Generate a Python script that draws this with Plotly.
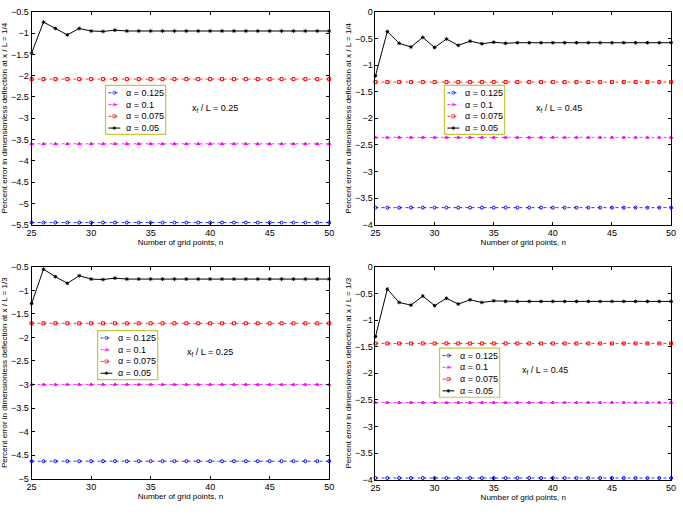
import plotly.graph_objects as go

W, H = 683, 516
n = list(range(25, 51))

# top-left: x/L = 1/4, xf/L = 0.25
tl_a0125 = [-5.45, -5.45, -5.45, -5.45, -5.45, -5.45, -5.45, -5.45, -5.45, -5.45, -5.45, -5.45, -5.45,
            -5.45, -5.45, -5.45, -5.45, -5.45, -5.45, -5.45, -5.45, -5.45, -5.45, -5.45, -5.45, -5.45]
tl_a01 = [-3.6, -3.6, -3.6, -3.6, -3.6, -3.6, -3.6, -3.6, -3.6, -3.6, -3.6, -3.6, -3.6,
          -3.6, -3.6, -3.6, -3.6, -3.6, -3.6, -3.6, -3.6, -3.6, -3.6, -3.6, -3.6, -3.6]
tl_a0075 = [-2.08, -2.08, -2.08, -2.08, -2.08, -2.08, -2.08, -2.08, -2.08, -2.08, -2.08, -2.08, -2.08,
            -2.08, -2.08, -2.08, -2.08, -2.08, -2.08, -2.08, -2.08, -2.08, -2.08, -2.08, -2.08, -2.08]
tl_a005 = [-1.47, -0.74, -0.89, -1.04, -0.89, -0.95, -0.96, -0.93, -0.95, -0.95, -0.95, -0.95, -0.95,
           -0.95, -0.95, -0.95, -0.95, -0.95, -0.95, -0.95, -0.95, -0.95, -0.95, -0.95, -0.95, -0.95]

# top-right: x/L = 1/4, xf/L = 0.45
tr_a0125 = [-3.68, -3.68, -3.68, -3.68, -3.68, -3.68, -3.68, -3.68, -3.68, -3.68, -3.68, -3.68, -3.68,
            -3.68, -3.68, -3.68, -3.68, -3.68, -3.68, -3.68, -3.68, -3.68, -3.68, -3.68, -3.68, -3.68]
tr_a01 = [-2.36, -2.36, -2.36, -2.36, -2.36, -2.36, -2.36, -2.36, -2.36, -2.36, -2.36, -2.36, -2.36,
          -2.36, -2.36, -2.36, -2.36, -2.36, -2.36, -2.36, -2.36, -2.36, -2.36, -2.36, -2.36, -2.36]
tr_a0075 = [-1.32, -1.32, -1.32, -1.32, -1.32, -1.32, -1.32, -1.32, -1.32, -1.32, -1.32, -1.32, -1.32,
            -1.32, -1.32, -1.32, -1.32, -1.32, -1.32, -1.32, -1.32, -1.32, -1.32, -1.32, -1.32, -1.32]
tr_a005 = [-1.2, -0.37, -0.59, -0.66, -0.48, -0.67, -0.51, -0.63, -0.55, -0.60, -0.57, -0.59, -0.58,
           -0.58, -0.58, -0.58, -0.58, -0.58, -0.58, -0.58, -0.58, -0.58, -0.58, -0.58, -0.58, -0.58]

# bottom-left: x/L = 1/3, xf/L = 0.25
bl_a0125 = [-4.63, -4.63, -4.63, -4.63, -4.63, -4.63, -4.63, -4.63, -4.63, -4.63, -4.63, -4.63, -4.63,
            -4.63, -4.63, -4.63, -4.63, -4.63, -4.63, -4.63, -4.63, -4.63, -4.63, -4.63, -4.63, -4.63]
bl_a01 = [-3.0, -3.0, -3.0, -3.0, -3.0, -3.0, -3.0, -3.0, -3.0, -3.0, -3.0, -3.0, -3.0,
          -3.0, -3.0, -3.0, -3.0, -3.0, -3.0, -3.0, -3.0, -3.0, -3.0, -3.0, -3.0, -3.0]
bl_a0075 = [-1.7, -1.7, -1.7, -1.7, -1.7, -1.7, -1.7, -1.7, -1.7, -1.7, -1.7, -1.7, -1.7,
            -1.7, -1.7, -1.7, -1.7, -1.7, -1.7, -1.7, -1.7, -1.7, -1.7, -1.7, -1.7, -1.7]
bl_a005 = [-1.28, -0.55, -0.71, -0.85, -0.69, -0.76, -0.77, -0.74, -0.76, -0.76, -0.76, -0.76, -0.76,
           -0.76, -0.76, -0.76, -0.76, -0.76, -0.76, -0.76, -0.76, -0.76, -0.76, -0.76, -0.76, -0.76]

# bottom-right: x/L = 1/3, xf/L = 0.45
br_a0125 = [-3.97, -3.97, -3.97, -3.97, -3.97, -3.97, -3.97, -3.97, -3.97, -3.97, -3.97, -3.97, -3.97,
            -3.97, -3.97, -3.97, -3.97, -3.97, -3.97, -3.97, -3.97, -3.97, -3.97, -3.97, -3.97, -3.97]
br_a01 = [-2.55, -2.55, -2.55, -2.55, -2.55, -2.55, -2.55, -2.55, -2.55, -2.55, -2.55, -2.55, -2.55,
          -2.55, -2.55, -2.55, -2.55, -2.55, -2.55, -2.55, -2.55, -2.55, -2.55, -2.55, -2.55, -2.55]
br_a0075 = [-1.44, -1.44, -1.44, -1.44, -1.44, -1.44, -1.44, -1.44, -1.44, -1.44, -1.44, -1.44, -1.44,
            -1.44, -1.44, -1.44, -1.44, -1.44, -1.44, -1.44, -1.44, -1.44, -1.44, -1.44, -1.44, -1.44]
br_a005 = [-1.31, -0.42, -0.67, -0.72, -0.55, -0.73, -0.59, -0.70, -0.62, -0.67, -0.64, -0.65, -0.65,
           -0.65, -0.65, -0.65, -0.65, -0.65, -0.65, -0.65, -0.65, -0.65, -0.65, -0.65, -0.65, -0.65]

series_names = ["\u03b1 = 0.125", "\u03b1 = 0.1", "\u03b1 = 0.075", "\u03b1 = 0.05"]
y_titles = ["Percent error in dimensionless deflection at x / L = 1/4",
            "Percent error in dimensionless deflection at x / L = 1/4",
            "Percent error in dimensionless deflection at x / L = 1/3",
            "Percent error in dimensionless deflection at x / L = 1/3"]
x_title = "Number of grid points, n"
xf_labels = ["x<sub>f</sub> / L = 0.25", "x<sub>f</sub> / L = 0.45",
             "x<sub>f</sub> / L = 0.25", "x<sub>f</sub> / L = 0.45"]
y_ranges = [(-5.5, -0.5), (-4, 0), (-5, -0.5), (-4, 0)]

panels = [
    [tl_a0125, tl_a01, tl_a0075, tl_a005],
    [tr_a0125, tr_a01, tr_a0075, tr_a005],
    [bl_a0125, bl_a01, bl_a0075, bl_a005],
    [br_a0125, br_a01, br_a0075, br_a005],
]

styles = [
    dict(color="#0000ff", dash="dot", symbol="circle-open", msize=3),
    dict(color="#ff00ff", dash="dot", symbol="triangle-up", msize=3),
    dict(color="#ff0000", dash="dot", symbol="square-open", msize=3),
    dict(color="#000000", dash="solid", symbol="asterisk-open", msize=3),
]

boxes = [(27, 329, 7, 224), (376, 676, 7, 224), (27, 329, 267, 483), (376, 676, 267, 484)]
leg_pos = [(102, 82), (446, 82), (94, 332), (441, 350)]
leg_w, leg_h = 61, 50
xf_pos = [(213, 106), (562, 106), (208, 354), (548, 373)]

FONT = "Liberation Sans, Arial, sans-serif"
fig = go.Figure()

for i, data in enumerate(panels):
    xa = "x" if i == 0 else f"x{i+1}"
    ya = "y" if i == 0 else f"y{i+1}"
    for j, ys in enumerate(data):
        s = styles[j]
        fig.add_trace(go.Scatter(
            x=n, y=ys, xaxis=xa, yaxis=ya, mode="lines+markers", name=series_names[j],
            showlegend=False, cliponaxis=False,
            line=dict(color=s["color"], width=1 if j == 3 else 0.8, dash=s["dash"]),
            marker=dict(symbol=s["symbol"], size=s["msize"], color=s["color"],
                        line=dict(color=s["color"], width=1)),
        ))
    l, r, t, b = boxes[i]
    axkw = dict(showline=True, linecolor="black", linewidth=1, mirror="ticks", ticks="inside",
                ticklen=3, tickcolor="black", showgrid=False, zeroline=False,
                tickfont=dict(family=FONT, size=9, color="black"))
    xname = "xaxis" if i == 0 else f"xaxis{i+1}"
    yname = "yaxis" if i == 0 else f"yaxis{i+1}"
    fig.layout[xname] = dict(domain=[l / W, r / W], range=[25, 50], dtick=5, anchor=ya,
                             title=dict(text=x_title, font=dict(family=FONT, size=8, color="black"),
                                        standoff=0), **axkw)
    fig.layout[yname] = dict(domain=[1 - b / H, 1 - t / H], range=list(y_ranges[i]), dtick=0.5,
                             anchor=xa,
                             title=dict(text=y_titles[i], font=dict(family=FONT, size=8, color="black"),
                                        standoff=2), **axkw)

# overlay pixel axis for legend samples
fig.layout["xaxis5"] = dict(domain=[0, 1], range=[0, W], visible=False, fixedrange=True, anchor="y5")
fig.layout["yaxis5"] = dict(domain=[0, 1], range=[H, 0], visible=False, fixedrange=True, anchor="x5")

shapes = []
annotations = []
for i in range(4):
    lx, ty = leg_pos[i]
    shapes.append(dict(type="rect", xref="paper", yref="paper",
                       x0=lx / W, x1=(lx + leg_w) / W, y0=1 - ty / H, y1=1 - (ty + leg_h) / H,
                       line=dict(color="#c8c83c", width=1.2), fillcolor="white", layer="below"))
    for j in range(4):
        s = styles[j]
        yy = ty + 7.5 + 12 * j
        fig.add_trace(go.Scatter(
            x=[lx + 3, lx + 9, lx + 15], y=[yy, yy, yy], xaxis="x5", yaxis="y5",
            mode="lines+markers", showlegend=False, hoverinfo="skip",
            line=dict(color=s["color"], width=1 if j == 3 else 0.8, dash=s["dash"]),
            marker=dict(symbol=s["symbol"], size=[0, s["msize"], 0], color=s["color"],
                        line=dict(color=s["color"], width=1)),
        ))
        annotations.append(dict(text=series_names[j], xref="paper", yref="paper",
                                x=(lx + 19) / W, y=1 - yy / H, xanchor="left", yanchor="middle",
                                showarrow=False, font=dict(family=FONT, size=9, color="black")))
    cx, cy = xf_pos[i]
    annotations.append(dict(text=xf_labels[i], xref="paper", yref="paper", x=cx / W, y=1 - cy / H,
                            xanchor="center", yanchor="middle", showarrow=False,
                            font=dict(family=FONT, size=9, color="black")))

fig.update_layout(width=W, height=H, margin=dict(l=0, r=0, t=0, b=0),
                  paper_bgcolor="white", plot_bgcolor="rgba(0,0,0,0)", showlegend=False,
                  shapes=shapes, annotations=annotations)

fig.write_html("out.html")
